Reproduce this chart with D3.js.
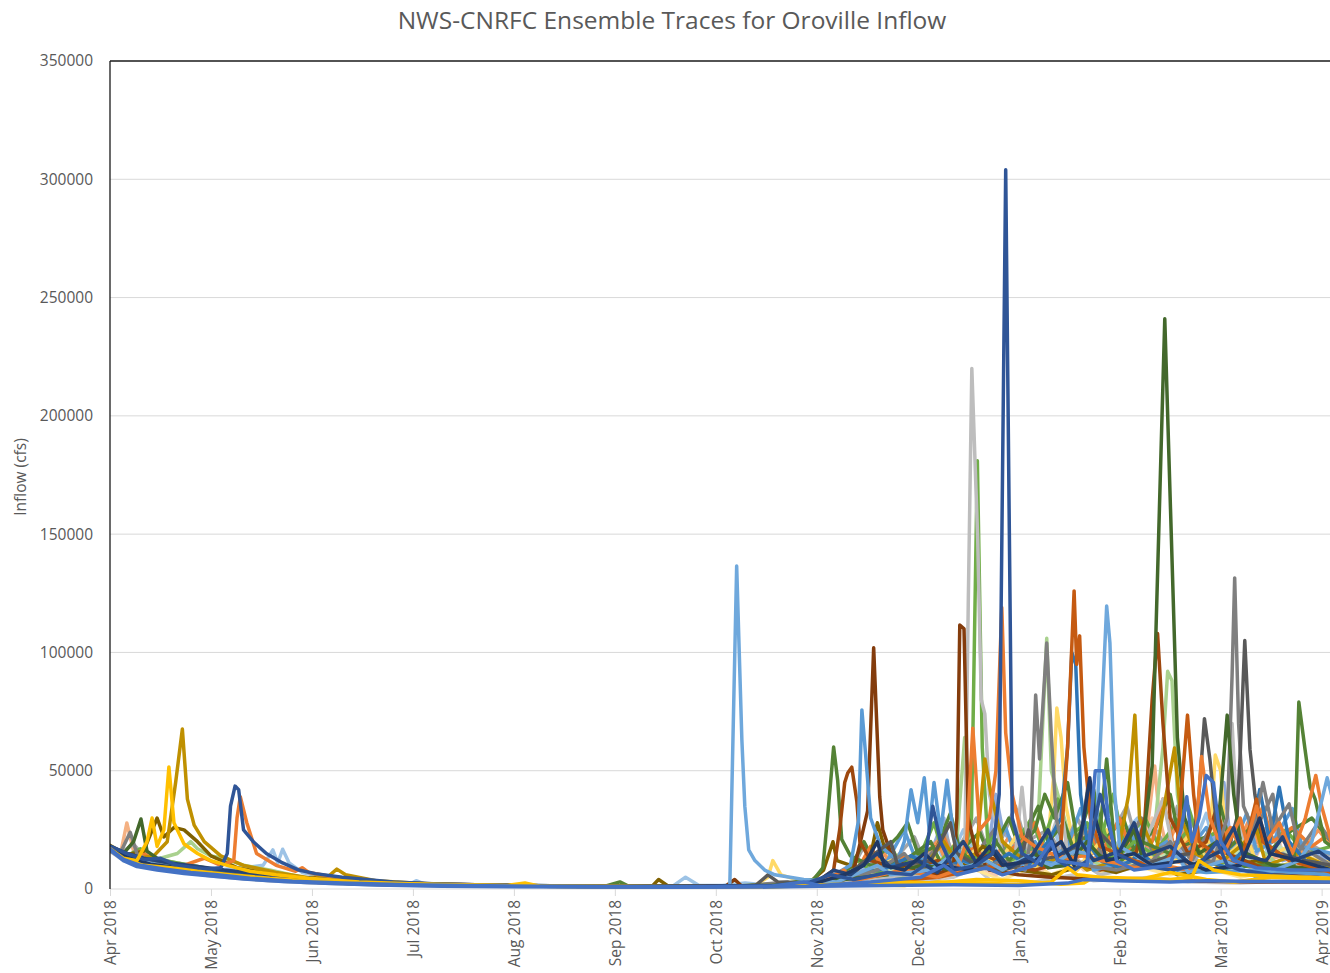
<!DOCTYPE html>
<html>
<head>
<meta charset="utf-8">
<script src="https://cdn.jsdelivr.net/npm/d3@7"></script>
<style>
  body { margin: 0; background: #fff; }
  svg { display: block; }
</style>
</head>
<body>
<svg id="chart" width="1330" height="973"></svg>
<script>
// ---- Chart text and axis values ----
const chartTitle = "NWS-CNRFC Ensemble Traces for Oroville Inflow";
const yAxisTitle = "Inflow (cfs)";
const yTickValues = [0, 50000, 100000, 150000, 200000, 250000, 300000, 350000];
const monthTicks = ["2018-04-01","2018-05-01","2018-06-01","2018-07-01","2018-08-01","2018-09-01",
  "2018-10-01","2018-11-01","2018-12-01","2019-01-01","2019-02-01","2019-03-01","2019-04-01"];

// ---- Ensemble traces: [days since 2018-04-01, inflow cfs] ----
const trace01 = [[0,16000],[4,12000],[10,9500],[18,8000],[26,6500],[35,5000],[48,3500],[62,2500],[80,1800],[100,1400],[130,1100],[170,900],[200,1000],[215,1500],[228,3000],[240,2500],[255,5000],[262,9000],[266,4000],[280,3000],[292,6000],[298,3500],[315,5000],[325,3000],[340,2500],[355,3500],[368,3000]];
const trace02 = [[0,16800],[5,12800],[12,10200],[20,8700],[30,6700],[42,4900],[55,3500],[70,2500],[90,1800],[120,1300],[160,1000],[200,1200],[215,2500],[228,5000],[240,3000],[250,12000],[254,6000],[262,8000],[270,4000],[280,10000],[285,6000],[295,12000],[300,7000],[310,10000],[320,6000],[330,9000],[340,5000],[350,8000],[368,6000]];
const trace03 = [[0,17000],[5,13000],[12,10000],[20,8500],[30,6500],[42,4700],[55,3300],[70,2400],[90,1700],[120,1200],[160,1000],[200,1100],[220,3000],[240,6000],[250,4000],[262,10000],[268,6000],[276,12000],[282,8000],[290,15000],[295,8000],[305,12000],[312,20000],[315,30000],[318,15000],[325,12000],[333,25000],[336,10000],[345,14000],[350,30000],[353,15000],[360,12000],[368,10000]];
const trace04 = [[0,17500],[4,14000],[9,11000],[16,10500],[24,9000],[32,8000],[40,9000],[46,10000],[49,16500],[50.5,11000],[52,16800],[54,11000],[58,7000],[65,5000],[75,3000],[90,2000],[92,3500],[95,1800],[120,1200],[170,1000],[174,5000],[178,1500],[185,1500],[192,2500],[200,1500],[220,3000],[232,12000],[236,6000],[245,8000],[250,18000],[253,10000],[258,25000],[262,14000],[267,20000],[270,10000],[276,14000],[280,9000],[286,25000],[289,12000],[295,15000],[300,9000],[308,25000],[311,30000],[314,12000],[320,20000],[324,9000],[330,32000],[333,12000],[340,10000],[346,25000],[350,9000],[360,12000],[368,8000]];
const trace05 = [[0,17000],[5,13000],[12,10000],[20,8800],[30,6800],[42,5000],[55,3500],[70,2500],[90,1800],[120,1300],[160,1000],[200,1200],[220,4000],[232,10000],[236,6000],[248,15000],[252,30000],[254,15000],[260,10000],[266,20000],[268,40000],[270,25000],[275,15000],[280,12000],[285,20000],[290,15000],[296,20000],[298,35000],[302,18000],[308,15000],[312,25000],[315,12000],[322,18000],[325,10000],[332,20000],[335,45000],[337,20000],[345,15000],[350,30000],[353,12000],[362,15000],[368,12000]];
const trace06 = [[0,16000],[5,12000],[10,12500],[15,10000],[25,8000],[35,6000],[48,4200],[62,3000],[80,2000],[110,1400],[150,1000],[190,900],[210,1500],[225,4000],[235,7000],[240,12000],[244,6000],[255,9000],[262,14000],[266,8000],[270,10000],[278,8000],[288,15000],[292,10000],[300,14000],[304,10000],[310,12000],[318,14000],[322,35000],[324,15000],[330,10000],[338,15000],[344,8000],[355,10000],[368,6000]];
const trace07 = [[0,17000],[3,14000],[5,27900],[7,16000],[10,12000],[15,10500],[22,9000],[30,7000],[40,5500],[55,3800],[70,2600],[90,1800],[120,1300],[160,1000],[200,1200],[225,4000],[240,6000],[252,10000],[258,7000],[266,12000],[272,8000],[280,15000],[284,9000],[290,20000],[294,10000],[305,14000],[310,9000],[314,30000],[315.7,52000],[317,30000],[320,12000],[330,9000],[335,20000],[338,10000],[348,12000],[355,15000],[360,8000],[368,9000]];
const trace08 = [[0,17500],[5,14000],[10,12000],[15,13000],[20,15000],[24,20000],[26,17000],[30,14000],[34,13000],[40,10000],[48,8000],[58,5000],[70,3200],[90,2100],[120,1500],[160,1200],[200,1500],[210,2000],[222,5000],[234,10000],[238,6000],[248,14000],[252,8000],[256,20000],[258.4,64000],[259.5,25000],[263,12000],[270,9000],[276,14000],[281,30000],[283.6,106000],[285,50000],[287,40000],[290,25000],[295,15000],[300,10000],[306,12000],[312,18000],[316,30000],[318,60000],[319.3,92000],[320.5,88000],[322,40000],[324,20000],[330,15000],[338,12000],[345,18000],[352,10000],[360,8000],[368,9000]];
const trace09 = [[0,16500],[5,12500],[12,10000],[20,9000],[30,7000],[42,5000],[55,3500],[70,2500],[90,1800],[120,1300],[160,1100],[195,1500],[199,5000],[200.5,12000],[203,6000],[210,3000],[220,5000],[232,8000],[236,15000],[240,7000],[250,10000],[256,20000],[259,9000],[265,12000],[270,7000],[276,18000],[280,8000],[284,20000],[285.8,49000],[286.7,76500],[288,64000],[289.5,35000],[292,18000],[296,12000],[302,25000],[305,10000],[312,12000],[318,8000],[324,15000],[331,20000],[332.5,56600],[334,50000],[335.5,20000],[340,10000],[350,8000],[360,14000],[368,10000]];
const trace10 = [[0,17500],[4,16000],[7,19000],[10,14000],[16,12000],[24,10000],[32,8000],[44,6000],[58,4200],[72,3000],[90,2200],[120,1500],[160,1200],[200,1500],[215,3500],[225,10000],[228,18000],[231,9000],[238,14000],[243,22000],[246,12000],[252,25000],[255,14000],[262,30000],[265,18000],[270,22000],[274,35000],[277,20000],[284,25000],[288,15000],[293,30000],[297,18000],[303,22000],[308,35000],[311,18000],[316,25000],[320,15000],[326,28000],[330,16000],[336,22000],[342,14000],[348,26000],[353,15000],[360,20000],[368,14000]];
const trace11 = [[0,18000],[5,14000],[9,17000],[13,13000],[20,11000],[28,9000],[36,7000],[48,5000],[62,3500],[78,2500],[95,1900],[125,1400],[165,1100],[200,1400],[218,4000],[226,12000],[230,8000],[236,18000],[239,10000],[245,15000],[249,28000],[252,14000],[258,20000],[263,12000],[268,25000],[272,15000],[279,30000],[282,18000],[287,38000],[290,22000],[296,28000],[299,15000],[304,40000],[307,20000],[313,30000],[317,18000],[325,35000],[328,20000],[334,25000],[338,15000],[344,30000],[348,18000],[354,25000],[360,15000],[368,18000]];
const trace12 = [[0,17000],[5,13000],[10,15000],[14,12000],[20,10000],[28,8000],[38,6500],[50,4800],[64,3400],[80,2400],[100,1800],[130,1300],[170,1000],[200,1200],[218,3000],[228,6000],[234,15000],[237,8000],[244,12000],[250,20000],[253,11000],[262,16000],[266,10000],[272,22000],[276,13000],[282,18000],[286,10000],[292,24000],[296,14000],[302,18000],[306,11000],[312,20000],[318,14000],[322,28000],[326,15000],[332,18000],[337,12000],[343,30000],[346,18000],[352,22000],[358,14000],[364,25000],[368,18000]];
const trace13 = [[0,17800],[5,14200],[10,12000],[18,10500],[26,9000],[34,7500],[44,6000],[56,4500],[70,3200],[88,2300],[110,1700],[140,1300],[180,1100],[205,1800],[215,4000],[222,8000],[228,5000],[235,12000],[240,25000],[243,14000],[250,10000],[256,18000],[260,10000],[266,15000],[271,26000],[274,14000],[280,20000],[284,12000],[290,18000],[294,34000],[297,16000],[304,14000],[309,24000],[312,13000],[319,20000],[323,12000],[330,26000],[333,15000],[338,18000],[342,32000],[345,16000],[350,20000],[356,34000],[359,18000],[368,15000]];
const trace14 = [[0,17200],[5,13500],[11,11000],[19,9500],[27,8000],[37,6300],[50,4600],[64,3300],[80,2300],[100,1700],[130,1200],[170,1000],[200,1100],[220,3000],[230,6000],[240,10000],[246,6000],[255,15000],[260,9000],[270,14000],[276,8000],[283,18000],[288,10000],[295,22000],[300,12000],[306,16000],[310,9000],[318,14000],[326,22000],[330,12000],[340,16000],[345,9000],[352,18000],[360,10000],[368,12000]];
const trace15 = [[0,17800],[5,14500],[11,12000],[19,10000],[27,8500],[37,6800],[50,5000],[64,3500],[80,2500],[100,1800],[130,1300],[170,1000],[200,1300],[215,3000],[224,9000],[228,20000],[231,12000],[238,22000],[241,28000],[244,15000],[250,18000],[254,32000],[257,16000],[263,24000],[266,14000],[272,30000],[275,18000],[281,35000],[284,20000],[289,28000],[292,16000],[298,42000],[301,20000],[307,30000],[310,16000],[316,26000],[320,40000],[323,18000],[330,22000],[334,35000],[337,18000],[345,28000],[349,16000],[355,24000],[362,30000],[368,20000]];
const trace16 = [[0,17200],[5,13500],[9,16000],[13,12000],[20,10000],[28,8500],[38,6800],[50,5000],[64,3600],[80,2500],[100,1800],[130,1300],[170,1000],[200,1300],[218,4000],[226,8000],[230,18000],[233,10000],[240,14000],[245,9000],[252,22000],[255,12000],[262,18000],[265,10000],[276,20000],[280,28000],[283,16000],[290,12000],[297,25000],[300,14000],[306,30000],[309,16000],[315,20000],[318,38000],[321,18000],[327,22000],[331,14000],[337,26000],[341,15000],[347,35000],[350,20000],[356,26000],[362,18000],[368,24000]];
const trace17 = [[0,16800],[5,13000],[12,10500],[20,9200],[30,7200],[42,5300],[55,3800],[70,2700],[90,1900],[120,1400],[160,1100],[200,1200],[220,3000],[232,9000],[238,5000],[246,12000],[252,20000],[255,10000],[262,15000],[268,26000],[271,14000],[278,18000],[286,10000],[292,16000],[298,24000],[301,12000],[308,20000],[312,30000],[315,16000],[322,20000],[326,12000],[332,28000],[335,14000],[343,20000],[350,40000],[352,22000],[358,16000],[364,28000],[368,20000]];
const trace18 = [[0,16600],[5,12600],[12,10000],[20,8600],[30,6700],[42,4900],[55,3500],[70,2500],[90,1800],[120,1300],[160,1000],[200,1100],[218,2500],[228,6000],[236,12000],[240,6000],[250,14000],[254,8000],[263,18000],[268,9000],[274,22000],[278,10000],[288,14000],[293,8000],[300,20000],[304,10000],[312,16000],[318,10000],[326,24000],[330,12000],[336,14000],[342,22000],[345,11000],[355,18000],[362,10000],[368,12000]];
const trace19 = [[0,17000],[5,13000],[12,10000],[20,8500],[30,6500],[42,4800],[55,3400],[70,2400],[90,1800],[120,1300],[160,1000],[200,1300],[220,4000],[230,8000],[240,5000],[250,10000],[255,18000],[258,12000],[260.5,30000],[262.3,181000],[263.8,60000],[265.5,20000],[270,10000],[280,18000],[285,10000],[295,15000],[300,30000],[304,12000],[310,20000],[318,12000],[325,25000],[330,10000],[340,12000],[350,9000],[368,8000]];
const trace20 = [[0,16500],[5,12000],[12,9000],[20,7500],[30,5500],[45,3800],[60,2600],[80,1800],[110,1300],[150,1000],[200,1100],[225,3000],[240,6000],[250,4000],[256,8000],[258.5,20000],[259.5,120000],[260.6,220000],[262.4,148000],[263.5,80000],[264.6,74000],[266,40000],[270,15000],[274,15000],[276,43000],[278,15000],[282,10000],[288,35000],[290,15000],[300,6000],[310,9000],[318,38000],[321,15000],[330,8000],[336,30000],[337.5,70000],[339,30000],[345,5000],[368,4000]];
const trace21 = [[0,18000],[5,14500],[10,16000],[14,30000],[16,22000],[19,26000],[22,25000],[26,20000],[30,14000],[38,9000],[50,6000],[65,3500],[80,2500],[100,1800],[130,1300],[164,1100],[166,4000],[169,1100],[200,1500],[212,3000],[216,8000],[218.8,20000],[220,12000],[226,9000],[230,14000],[232,28000],[234,18000],[240,8000],[250,6000],[258,10000],[264,18000],[268,14000],[275,8000],[285,6000],[295,10000],[305,7000],[315,12000],[322,6000],[335,9000],[345,12000],[355,7000],[368,8000]];
const trace22 = [[0,18500],[4,15000],[8,13000],[13,14000],[17,20000],[19.5,45000],[21.5,67600],[23,38000],[25,27000],[28,20000],[33,14000],[40,10000],[50,7000],[60,4800],[66,5500],[68.4,8400],[71,6000],[80,3500],[95,2200],[120,1500],[150,1200],[180,1100],[210,1800],[222,4000],[232,6000],[245,8000],[252,20000],[256,12000],[262,15000],[264.6,55000],[266.5,40000],[270,20000],[275,14000],[282,10000],[290,15000],[296,8000],[305,12000],[308.5,40000],[310.2,73500],[311.5,30000],[316,15000],[321.2,59600],[323,30000],[327,15000],[333,10000],[340,18000],[345,25000],[348,10000],[358,15000],[368,9000]];
const trace23 = [[0,17500],[5,14000],[10,11500],[20,9000],[30,7000],[40,5500],[52,4000],[66,2800],[85,2000],[110,1500],[150,1200],[154.5,3000],[157,1200],[190,1200],[205,2500],[213,4000],[215.8,9000],[217.5,35000],[219,60000],[220.2,46000],[221.4,21000],[224,14000],[230,10000],[240,12000],[248,20000],[252,8000],[258,15000],[262,10000],[268,20000],[272,12000],[280,25000],[283,40000],[286,30000],[290,45000],[293,20000],[300,25000],[302,55000],[305,10000],[312,20000],[320,15000],[330,8000],[345,10000],[356.5,10000],[358,79000],[359.8,60000],[361.5,43000],[363,38000],[366,20000],[368,18000]];
const trace24 = [[0,17500],[5,13000],[10,10500],[20,8500],[30,6500],[42,4800],[55,3500],[62,4500],[66,3000],[80,2200],[100,1600],[130,1200],[170,1000],[186,1200],[188.8,4000],[191,1200],[208,2500],[212,1500],[220,3000],[225,8000],[229.1,33000],[230.9,102000],[232.7,39000],[233.6,25000],[236,15000],[240,10000],[245,8000],[250,6000],[255,10000],[256,30000],[256.9,111600],[258.2,110000],[259.5,30000],[262,15000],[266,8000],[275,6000],[285,5000],[300,4000],[320,3500],[345,3000],[368,3000]];
const trace25 = [[0,17000],[5,12500],[10,10000],[20,8200],[30,6200],[45,4300],[60,3000],[80,2000],[110,1400],[150,1100],[200,1300],[210,2500],[215,4000],[219,8000],[220.8,25000],[222.3,45000],[223.2,49000],[224.4,51500],[225.9,37000],[226.8,20000],[230,12000],[240,8000],[250,12000],[258,9000],[265,14000],[272,10000],[280,8000],[290,12000],[300,8000],[310,12000],[313,30000],[315,80000],[316.5,108000],[318,70000],[320,30000],[325,15000],[330,20000],[333,35000],[336,15000],[345,10000],[350,7000],[368,6000]];
const trace26 = [[0,17500],[5,13500],[10,11000],[20,9000],[30,7000],[40,5500],[52,4000],[65,2800],[85,2000],[110,1400],[150,1100],[190,1000],[210,2000],[218,5000],[224,10000],[226.4,29000],[227.4,75700],[228.5,57000],[230,30000],[233,18000],[238,12000],[240,20000],[242,42000],[244,28000],[246,47000],[247.5,25000],[249,45000],[251,24000],[253,46000],[255,22000],[258,12000],[262,9000],[270,8000],[280,12000],[290,10000],[295,20000],[298,8000],[310,12000],[318,9000],[330,7000],[345,8000],[368,6000]];
const trace27 = [[0,18000],[5,14000],[10,11500],[20,9500],[30,7500],[40,6000],[52,4200],[65,3000],[85,2100],[110,1500],[150,1100],[195,1100],[212,3000],[225,6000],[235,9000],[242,14000],[250,8000],[258,12000],[265,9000],[272,15000],[278,10000],[284,20000],[288,30000],[290,60000],[291.3,100000],[292.5,95000],[294,40000],[296,20000],[300,12000],[306,9000],[312,15000],[316,10000],[322,8000],[330,12000],[336,9000],[340,15000],[343,20000],[346,42000],[349,20000],[352,43000],[355,20000],[360,12000],[368,10000]];
const trace28 = [[0,16000],[3,15000],[6,24000],[8,15000],[12,11000],[20,9000],[28,7000],[38,5500],[50,4000],[65,2800],[85,2000],[110,1500],[150,1100],[190,1000],[205,3000],[208,1500],[220,3000],[232,8000],[240,15000],[244,8000],[255,10000],[262,8000],[270,12000],[277,8000],[278.5,20000],[280.2,82000],[281.4,55000],[283.6,104000],[285,65000],[286.5,30000],[289,15000],[295,10000],[305,8000],[315,12000],[320,20000],[325,8000],[332,12000],[336,30000],[337.5,90000],[338.3,131500],[339.5,70000],[341,35000],[344,25000],[347,45000],[350,25000],[355,36000],[358,18000],[362,15000],[368,10000]];
const trace29 = [[0,17000],[5,13000],[12,10500],[20,9000],[28,7500],[36,6000],[46,4500],[58,3200],[72,2300],[90,1700],[120,1300],[160,1000],[195,1200],[199,6000],[202,3000],[212,2500],[222,5000],[236,20000],[238,10000],[248,12000],[254,28000],[256,15000],[262,10000],[270,8000],[275,10000],[278,25000],[281,12000],[290,15000],[294,20000],[296.5,46000],[299,25000],[306,15000],[312,10000],[320,14000],[326,15000],[328,40000],[329.5,72000],[331,55000],[333,25000],[336,15000],[339,30000],[340,57000],[341.4,105000],[343,59000],[344.5,40000],[347,20000],[352,15000],[360,12000],[368,10000]];
const trace30 = [[0,18000],[4,15000],[7,20000],[9.2,29600],[11,16000],[15,12000],[25,8000],[35,6000],[50,4000],[70,2500],[90,1800],[120,1300],[150,1400],[170,1100],[200,1500],[215,3000],[235,6000],[245,10000],[255,8000],[265,12000],[270,8000],[280,15000],[284,9000],[290,10000],[296,20000],[300,14000],[305,12000],[310,25000],[312,15000],[315,52000],[318.5,241000],[322,64000],[324,30000],[328,15000],[333,20000],[336,73500],[338,40000],[340,20000],[342,15000],[350,10000],[368,8000]];
const trace31 = [[0,17000],[5,12500],[10,10000],[20,8000],[30,6000],[45,4200],[60,3000],[80,2000],[110,1400],[150,1100],[200,1200],[230,2500],[250,5000],[265,9000],[280,12000],[288,20000],[290,60000],[292,126000],[292.8,95000],[293.7,107000],[295,60000],[297,30000],[300,18000],[310,12000],[318,9000],[322,20000],[324.8,73500],[326.5,40000],[328,20000],[335,12000],[340,10000],[345,38000],[347,20000],[355,12000],[368,7000]];
const trace32 = [[0,17000],[5,13000],[12,10000],[20,9000],[28,13000],[33,10000],[37,12000],[38,30000],[39,39000],[41,28000],[44,15000],[50,10000],[56,7500],[58,9000],[60,7000],[66,5500],[72,4000],[85,2800],[100,2000],[130,1400],[170,1000],[200,1200],[215,2500],[222,8000],[225,3500],[240,8000],[250,5000],[256,8000],[259,20000],[260.9,68000],[263,25000],[266,30000],[268,50000],[269.8,119000],[271,66000],[273,40000],[276,22000],[280,18000],[285,15000],[290,13000],[295,14000],[300,12000],[305,11000],[310,9000],[318,10000],[325,8000],[327,20000],[328.7,56000],[331,30000],[335,15000],[340,30000],[342,20000],[345,35000],[348,20000],[352,28000],[356,15000],[360,30000],[363.2,48000],[365,35000],[368,20000]];
const trace33 = [[0,17000],[5,13000],[15,10000],[25,8000],[35,6000],[45,4500],[60,3000],[75,2200],[90,1700],[120,1200],[150,1000],[183,1000],[187.3,1500],[189.4,136500],[191,63000],[191.9,35000],[193.1,16500],[195,12000],[198,8000],[201.1,6000],[210,4000],[220,3000],[232,10000],[236,6000],[248,8000],[255,15000],[258,9000],[265,12000],[270,8000],[278,14000],[285,10000],[292,16000],[296,15000],[299,30000],[302,119600],[303,104000],[304.5,40000],[306,18000],[315,10000],[322,14000],[325,7000],[335,12000],[340,9000],[345,5000],[358,12000],[362,20000],[366.7,47000],[368,40000]];
const trace34 = [[0,18200],[5,15000],[10,13000],[18,11000],[26,9500],[34,8000],[44,6500],[56,5000],[70,3500],[88,2500],[110,1800],[140,1300],[180,1100],[205,1500],[214,3000],[219,8000],[224,6000],[232,15000],[236,9000],[244,12000],[250,7000],[258,20000],[262,11000],[268,16000],[272,9000],[279,14000],[284,25000],[287,14000],[294,20000],[298,12000],[306,16000],[310,28000],[313,14000],[320,18000],[326,10000],[334,16000],[338,26000],[341,14000],[348,12000],[353,22000],[356,12000],[364,16000],[368,12000]];
const trace35 = [[0,17500],[5,13500],[12,10500],[20,9000],[30,7000],[40,5500],[52,4000],[66,2800],[85,2000],[110,1500],[150,1100],[200,1200],[215,3000],[222,6000],[228,10000],[232,20000],[234,10000],[240,8000],[246,15000],[250,10000],[260,8000],[266,18000],[270,10000],[280,12000],[288,20000],[292,10000],[295,30000],[296.8,47000],[298.5,30000],[302,12000],[310,15000],[315,10000],[324,12000],[330,8000],[340,10000],[346,30000],[349,15000],[358,12000],[368,8000]];
const trace36 = [[0,18000],[5,15000],[10,12500],[15,13000],[20,10000],[28,8500],[33,9000],[35,15000],[36,35000],[37.4,43500],[38.5,42000],[40,25000],[43,20000],[47,15000],[52,11000],[57,8000],[62,6500],[70,5000],[85,3000],[100,2000],[130,1400],[170,1100],[200,1300],[212,3000],[218,6000],[225,4000],[235,7000],[242,6000],[246,10000],[248.6,35000],[251,20000],[255,8000],[262,10000],[267,15000],[269,40000],[271,304000],[273,30000],[276,15000],[282,10000],[285,20000],[287,12000],[292,8000],[296,12000],[300,40000],[302,30000],[305,15000],[312,10000],[320,8000],[328,10000],[333,20000],[336,10000],[340,8000],[350,6000],[360,5000],[368,4000]];
const trace37 = [[0,16800],[4,12500],[10,10000],[18,9000],[26,7500],[36,6000],[48,4500],[62,3200],[80,2300],[100,1700],[130,1200],[170,900],[200,1000],[220,2000],[240,3000],[250,2500],[262,4000],[275,3500],[288,2000],[295,2500],[298,5000],[310,3500],[320,7000],[330,4000],[338,3000],[350,5000],[368,4000]];
const trace38 = [[0,17000],[4,13000],[8,12000],[11,20000],[12.5,30000],[14,18000],[16,25000],[17.5,51600],[19,28000],[22,19000],[26,15000],[30,12000],[35,10000],[42,7500],[50,6000],[60,4500],[75,3000],[90,2200],[120,1500],[125.4,2500],[130,1200],[183,900],[200,1000],[215,1500],[225,2000],[240,1500],[250,3000],[265,2500],[275,1800],[285,3000],[290,9000],[293,6000],[300,5000],[310,4500],[320,4000],[326,5000],[328,12000],[332,8000],[340,6000],[350,5500],[360,5000],[368,4500]];
const trace39 = [[0,17000],[4,12500],[9,10000],[16,8500],[24,7000],[32,6000],[42,4500],[55,3300],[70,2500],[90,1800],[120,1300],[150,1000],[183,900],[200,1200],[210,3000],[215,1500],[230,3000],[245,5000],[252,10000],[256,6000],[265,9000],[270,6000],[280,10000],[285,20000],[287,12000],[296,10000],[298.5,50000],[301,50000],[302.5,30000],[305,12000],[310,8000],[320,10000],[323,25000],[324.6,39000],[326,20000],[328,30000],[330,48000],[332,45000],[334,20000],[338,12000],[345,9000],[355,8000],[368,8000]];
const trace40 = [[0,16500],[4,12000],[8,9500],[14,8000],[22,6500],[30,5500],[40,4200],[52,3200],[65,2400],[80,1700],[100,1200],[130,900],[170,700],[200,800],[215,1200],[235,1500],[255,1800],[275,1500],[290,2500],[295,4000],[305,3500],[320,3000],[330,3500],[345,3200],[368,3000]];

const ensembleTraces = [trace01, trace02, trace03, trace04, trace05, trace06, trace07, trace08, trace09, trace10,
  trace11, trace12, trace13, trace14, trace15, trace16, trace17, trace18, trace19, trace20,
  trace21, trace22, trace23, trace24, trace25, trace26, trace27, trace28, trace29, trace30,
  trace31, trace32, trace33, trace34, trace35, trace36, trace37, trace38, trace39, trace40];
const traceColors = ["#C9C9C9", "#FFE699", "#F8CBAD", "#9DC3E6", "#8FAADC", "#A5A5A5", "#F4B183", "#A9D18E", "#FFD966", "#A5A5A5",
  "#70AD47", "#F1975A", "#5B9BD5", "#C5E0B4", "#548235", "#ED7D31", "#7F7F7F", "#FFD966", "#70AD47", "#BDBDBD",
  "#7F6000", "#BF9000", "#548235", "#843C0C", "#9E480E", "#5B9BD5", "#2E75B6", "#7F7F7F", "#595959", "#43682B",
  "#C55A11", "#ED7D31", "#6FA8DC", "#264478", "#1F3864", "#2F5597", "#FFC000", "#FFC000", "#4472C4", "#4472C4"];

// ---- Layout ----
const width = 1330, height = 973;
const plot = { left: 110, right: 1330, top: 61, bottom: 889 };
const monthStep = 100.97;
const textColor = "#595959";
const fontFamily = "'Open Sans', 'Liberation Sans', sans-serif";

const svg = d3.select("#chart");
const parseDay = d3.utcParse("%Y-%m-%d");
const monthDates = monthTicks.map(parseDay);
const dayMs = 864e5;
const toDate = d => new Date(monthDates[0].getTime() + d * dayMs);

// Months are spaced evenly along the axis
const x = d3.scaleUtc()
  .domain(monthDates)
  .range(monthDates.map((_, i) => plot.left + i * monthStep));
const y = d3.scaleLinear().domain([0, 350000]).range([plot.bottom, plot.top]);

// Title
svg.append("text")
  .attr("x", 672).attr("y", 29)
  .attr("text-anchor", "middle")
  .attr("font-family", fontFamily)
  .attr("font-size", 24.5)
  .attr("fill", textColor)
  .text(chartTitle);

// Horizontal gridlines
svg.append("g").selectAll("line")
  .data(yTickValues.filter(v => v > 0 && v < 350000))
  .join("line")
  .attr("x1", plot.left).attr("x2", plot.right)
  .attr("y1", d => y(d)).attr("y2", d => y(d))
  .attr("stroke", "#D9D9D9").attr("stroke-width", 1);

// Y axis tick labels
const yAxis = d3.axisLeft(y).tickValues(yTickValues).tickSize(0).tickPadding(17).tickFormat(d3.format("d"));
const gy = svg.append("g").attr("transform", `translate(${plot.left},0)`).call(yAxis);
gy.select(".domain").remove();
gy.selectAll("text").attr("font-family", fontFamily).attr("font-size", 15.5).attr("fill", textColor);

// Y axis title
svg.append("text")
  .attr("transform", `translate(26,${(plot.top + plot.bottom) / 2 + 2}) rotate(-90)`)
  .attr("text-anchor", "middle")
  .attr("font-family", fontFamily)
  .attr("font-size", 15.5)
  .attr("fill", textColor)
  .text(yAxisTitle);

// X axis with month ticks
const xAxis = d3.axisBottom(x).tickValues(monthDates).tickSize(7).tickPadding(10).tickFormat(d3.utcFormat("%b %Y"));
const gx = svg.append("g").attr("transform", `translate(0,${plot.bottom})`).call(xAxis);
gx.select(".domain").attr("stroke", "#D9D9D9").attr("d", `M${plot.left},0H${plot.right}`);
gx.selectAll(".tick line").attr("stroke", "#D9D9D9");
gx.selectAll("text")
  .attr("font-family", fontFamily).attr("font-size", 15.5).attr("fill", textColor)
  .attr("text-anchor", "end")
  .attr("transform", "rotate(-90)")
  .attr("x", -11).attr("y", 0).attr("dy", "0.35em");

// Traces
svg.append("clipPath").attr("id", "plot-clip")
  .append("rect").attr("x", plot.left).attr("y", plot.top - 10)
  .attr("width", plot.right - plot.left).attr("height", plot.bottom - plot.top + 12);

const line = d3.line()
  .x(d => x(toDate(d[0])))
  .y(d => y(d[1]));

svg.append("g").attr("clip-path", "url(#plot-clip)")
  .selectAll("path")
  .data(ensembleTraces)
  .join("path")
  .attr("d", line)
  .attr("fill", "none")
  .attr("stroke", (d, i) => traceColors[i])
  .attr("stroke-width", 3.5)
  .attr("stroke-linejoin", "round")
  .attr("stroke-linecap", "round");

// Frame: value axis line and top border
svg.append("line")
  .attr("x1", plot.left).attr("x2", plot.left)
  .attr("y1", plot.top).attr("y2", plot.bottom)
  .attr("stroke", "#1a1a1a").attr("stroke-width", 1.3);
svg.append("line")
  .attr("x1", plot.left).attr("x2", plot.right)
  .attr("y1", plot.top).attr("y2", plot.top)
  .attr("stroke", "#1a1a1a").attr("stroke-width", 1.5);
</script>
</body>
</html>
